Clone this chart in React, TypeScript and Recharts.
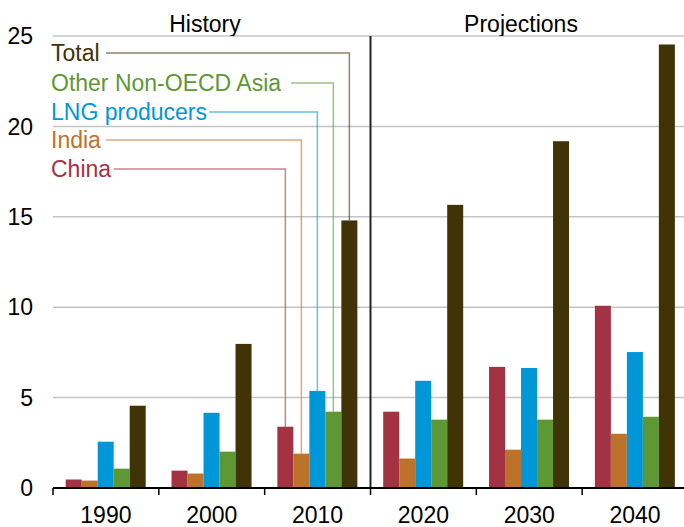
import React from 'react'
import { BarChart, Bar, XAxis, YAxis, CartesianGrid, ReferenceLine } from 'recharts'

const years = ['1990', '2000', '2010', '2020', '2030', '2040']
const china = [0.47, 0.96, 3.39, 4.22, 6.7, 10.08]
const india = [0.41, 0.8, 1.9, 1.63, 2.12, 3.0]
const lngProducers = [2.56, 4.16, 5.37, 5.93, 6.64, 7.52]
const otherAsia = [1.07, 2.01, 4.22, 3.78, 3.78, 3.94]
const total = [4.55, 7.97, 14.8, 15.66, 19.18, 24.53]
const yTicks = [0, 5, 10, 15, 20, 25]
const firstProjection = '2020'

const data = years.map((year, i) => ({
  year,
  china: china[i],
  india: india[i],
  lng: lngProducers[i],
  other: otherAsia[i],
  total: total[i],
}))

const FONT = '"Liberation Sans", Arial, sans-serif'
const X_TICK_MARGIN = 19

// label rows drawn next to the 2010 bars
const series = [
  { key: 'china', name: 'China', color: '#a33343', labelY: 177, lineY: 169, lineStart: 114 },
  { key: 'india', name: 'India', color: '#bd722b', labelY: 148, lineY: 140, lineStart: 106 },
  { key: 'lng', name: 'LNG producers', color: '#0097d9', labelY: 120, lineY: 112, lineStart: 209 },
  { key: 'other', name: 'Other Non-OECD Asia', color: '#5e9834', labelY: 91, lineY: 83, lineStart: 291 },
  { key: 'total', name: 'Total', color: '#403306', labelY: 61, lineY: 53, lineStart: 106 },
]

const makeShape = (s: typeof series[number]) => (props: any) => {
  const { x, y, width, height, index } = props
  const cx = x + width / 2
  return (
    <g>
      <rect x={x} y={y} width={width} height={height} fill={s.color} />
      {index === 2 && (
        <g>
          <polyline
            points={`${cx},${y} ${cx},${s.lineY} ${s.lineStart},${s.lineY}`}
            fill="none"
            stroke={s.color}
            strokeOpacity={0.6}
            strokeWidth={1.5}
          />
          <text x={51} y={s.labelY} fill={s.color} fontSize={23} fontFamily={FONT}>
            {s.name}
          </text>
        </g>
      )}
    </g>
  )
}

// year label in the middle, tick mark at the left edge of each category
const YearTick = (props: any) => {
  const { x, y, payload } = props
  const half = payload?.offset ?? 635 / 12
  const axisY = y - X_TICK_MARGIN
  return (
    <g>
      <line x1={x - half} x2={x - half} y1={axisY} y2={axisY + 7} stroke="#000" strokeWidth={1.5} />
      <text x={x} y={y} dy="0.71em" textAnchor="middle" fontSize={23} fontFamily={FONT} fill="#000">
        {payload.value}
      </text>
    </g>
  )
}

const App = () => (
  <div style={{ position: 'absolute', left: 0, top: 0, width: 684, height: 527, background: '#fff' }}>
    <BarChart
      width={684}
      height={527}
      data={data}
      margin={{ top: 36, right: -4, left: 0, bottom: 0 }}
      barCategoryGap="12%"
      barGap={0}
    >
      <CartesianGrid vertical={false} stroke="#c4c4c4" strokeWidth={1.5} />
      <XAxis
        dataKey="year"
        height={39}
        axisLine={{ stroke: '#000', strokeWidth: 2 }}
        tickLine={false}
        tickSize={0}
        tickMargin={X_TICK_MARGIN}
        tick={<YearTick />}
        interval={0}
      />
      <YAxis
        width={53}
        domain={[0, 25]}
        ticks={yTicks}
        axisLine={false}
        tickLine={false}
        tickSize={0}
        tickMargin={20}
        tick={{ fontSize: 23, fill: '#000', fontFamily: FONT }}
      />
      <ReferenceLine x={firstProjection} position="start" stroke="#222" strokeWidth={2} />
      {series.map((s) => (
        <Bar
          key={s.key}
          dataKey={s.key}
          fill={s.color}
          isAnimationActive={false}
          shape={makeShape(s)}
        />
      ))}
    </BarChart>
    <svg
      width={684}
      height={36}
      style={{ position: 'absolute', left: 0, top: 0, pointerEvents: 'none' }}
    >
      <text x={205} y={32} textAnchor="middle" fontSize={23} fontFamily={FONT} fill="#000">
        History
      </text>
      <text x={521} y={32} textAnchor="middle" fontSize={23} fontFamily={FONT} fill="#000">
        Projections
      </text>
    </svg>
  </div>
)

export default App
